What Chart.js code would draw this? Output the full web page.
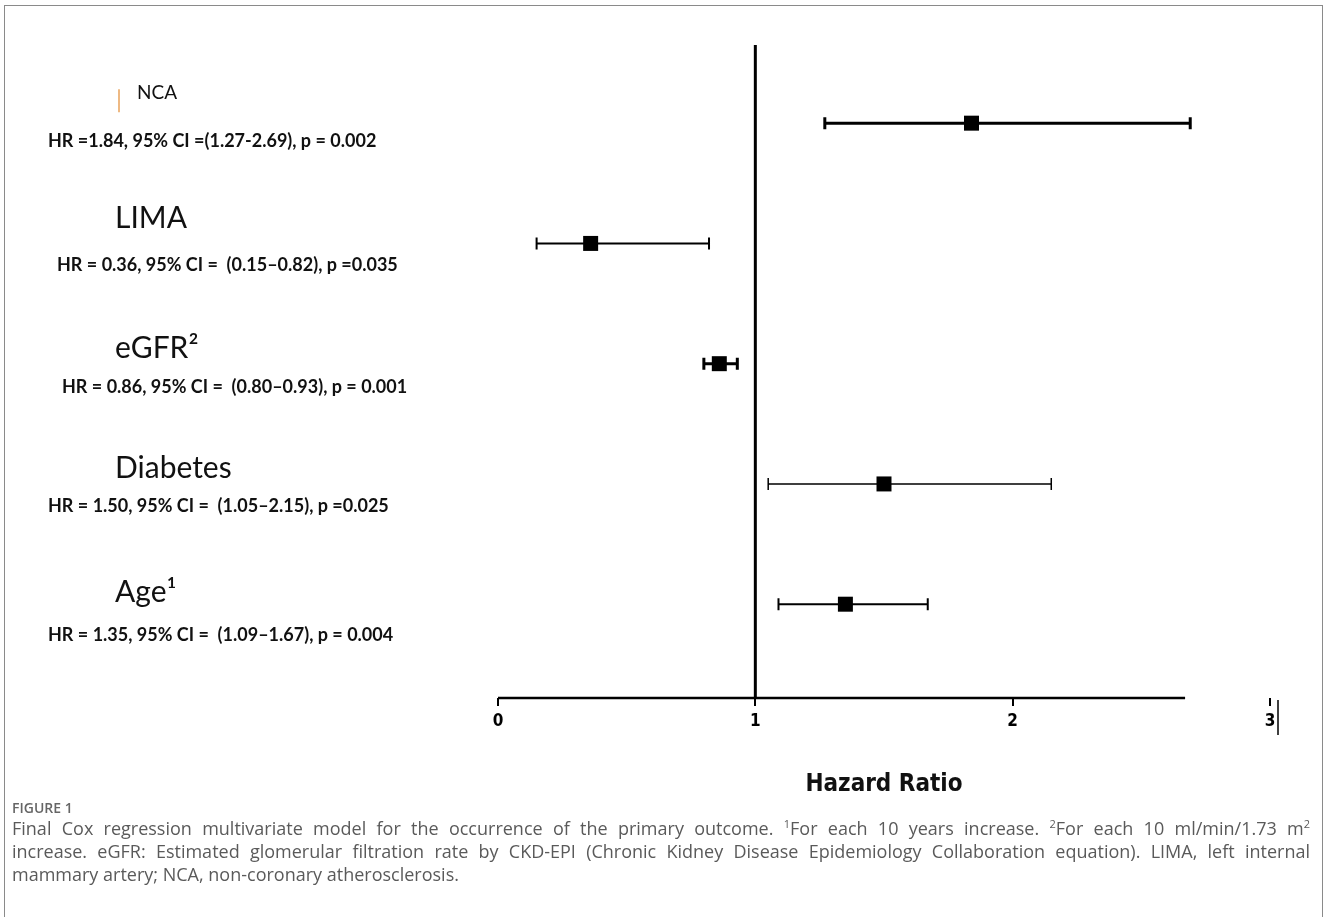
<!DOCTYPE html>
<html>
<head>
<meta charset="utf-8">
<script src="https://cdn.jsdelivr.net/npm/chart.js@4.4.1/dist/chart.umd.min.js"></script>
<style>
  body { margin: 0; background: #fff; }
  #frame { position: absolute; left: 4px; top: 5px; width: 1317px; height: 930px; border: 1px solid #8a8a8a; border-bottom: none; }
  #myChart { position: absolute; left: 0; top: 0; }
  #figlabel { position: absolute; left: 12px; top: 798px; font: 600 14px "Open Sans", "Noto Sans", sans-serif; color: #666; }
  #caption { position: absolute; left: 12px; top: 817px; width: 1298px; font: 18px "Open Sans", "Noto Sans", sans-serif; color: #5a5a5a; line-height: 23px; }
  .jl { text-align: justify; text-align-last: justify; white-space: nowrap; }
  sup { font-size: 11px; line-height: 0; }
</style>
</head>
<body>
<div id="frame"></div>
<canvas id="myChart" width="1328" height="800"></canvas>
<div id="figlabel">FIGURE 1</div>
<div id="caption">
  <div class="jl">Final Cox regression multivariate model for the occurrence of the primary outcome. <sup>1</sup>For each 10 years increase. <sup>2</sup>For each 10 ml/min/1.73 m<sup>2</sup></div>
  <div class="jl">increase. eGFR: Estimated glomerular filtration rate by CKD-EPI (Chronic Kidney Disease Epidemiology Collaboration equation). LIMA, left internal</div>
  <div>mammary artery; NCA, non-coronary atherosclerosis.</div>
</div>
<script>
// rows top to bottom
const rowNames = ['NCA', 'LIMA', 'eGFR\u00B2', 'Diabetes', 'Age\u00B9'];
const rowPos = [4, 3, 2, 1, 0];
const hrValues = [1.84, 0.36, 0.86, 1.50, 1.35];
const ciLower = [1.27, 0.15, 0.80, 1.05, 1.09];
const ciUpper = [2.69, 0.82, 0.93, 2.15, 1.67];
const statTexts = [
  'HR =1.84, 95% CI =(1.27-2.69), p = 0.002',
  'HR = 0.36, 95% CI =  (0.15\u20130.82), p =0.035',
  'HR = 0.86, 95% CI =  (0.80\u20130.93), p = 0.001',
  'HR = 1.50, 95% CI =  (1.05\u20132.15), p =0.025',
  'HR = 1.35, 95% CI =  (1.09\u20131.67), p = 0.004'
];
const xTicks = [0, 1, 2, 3];
const refValue = 1;
const axisEnd = 2.67;

// layout of the text block on the left (pixels)
const nameX = [137, 115, 115, 115, 115];
const nameDy = [-30, -25, -15, -16, -12];
const nameSize = [19, 30, 30, 30, 30];
const statX = [48, 57, 62, 48, 48];
const statDy = [18, 22, 24, 22, 31];
const barWidth = [3, 2, 3, 1.5, 2];

const convas = document.getElementById('myChart');
const ctx = convas.getContext('2d');

const forestPlugin = {
  id: 'forest',
  beforeDatasetsDraw(chart) {
    const c = chart.ctx;
    const xs = chart.scales.x, ys = chart.scales.y;
    const area = chart.chartArea;
    c.save();
    c.strokeStyle = '#000';
    // reference line at HR = 1
    c.lineWidth = 3;
    c.beginPath();
    c.moveTo(xs.getPixelForValue(refValue), area.top);
    c.lineTo(xs.getPixelForValue(refValue), area.bottom);
    c.stroke();
    // x axis line
    c.lineWidth = 2.5;
    c.beginPath();
    c.moveTo(xs.getPixelForValue(0), area.bottom);
    c.lineTo(xs.getPixelForValue(axisEnd), area.bottom);
    c.stroke();
    // stray bar after the 3
    c.lineWidth = 1.5;
    c.beginPath();
    c.moveTo(xs.getPixelForValue(3) + 8, area.bottom + 2);
    c.lineTo(xs.getPixelForValue(3) + 8, area.bottom + 37);
    c.stroke();
    // confidence intervals
    hrValues.forEach((v, i) => {
      const y = ys.getPixelForValue(rowPos[i]);
      const x1 = xs.getPixelForValue(ciLower[i]);
      const x2 = xs.getPixelForValue(ciUpper[i]);
      c.lineWidth = barWidth[i];
      c.beginPath();
      c.moveTo(x1, y); c.lineTo(x2, y);
      c.moveTo(x1, y - 6); c.lineTo(x1, y + 6);
      c.moveTo(x2, y - 6); c.lineTo(x2, y + 6);
      c.stroke();
    });
    c.restore();
  },
  afterDraw(chart) {
    const c = chart.ctx;
    const ys = chart.scales.y;
    c.save();
    c.fillStyle = '#111';
    c.textBaseline = 'middle';
    c.textAlign = 'left';
    rowNames.forEach((name, i) => {
      const y = ys.getPixelForValue(rowPos[i]);
      c.font = nameSize[i] + 'px Lato, "Open Sans", sans-serif';
      c.fillText(name, nameX[i], y + nameDy[i]);
      c.font = 'bold 18px Lato, "Open Sans", sans-serif';
      c.fillText(statTexts[i], statX[i], y + statDy[i]);
    });
    // little orange mark next to NCA
    const yN = ys.getPixelForValue(rowPos[0]);
    c.strokeStyle = '#e9a25a';
    c.lineWidth = 1.5;
    c.beginPath();
    c.moveTo(119, yN - 34); c.lineTo(119, yN - 11);
    c.stroke();
    c.restore();
  }
};

let chartInstance = new Chart(ctx, {
  type: 'scatter',
  data: {
    datasets: [{
      data: hrValues.map((v, i) => ({ x: v, y: rowPos[i] })),
      pointStyle: 'rect',
      pointRadius: 10.6,
      pointHoverRadius: 10.6,
      backgroundColor: '#000',
      borderColor: '#000',
      borderWidth: 0
    }]
  },
  options: {
    responsive: false,
    animation: false,
    layout: { padding: { left: 498, right: 58, top: 45, bottom: 0 } },
    plugins: { legend: { display: false }, tooltip: { enabled: false } },
    scales: {
      x: {
        type: 'linear',
        min: 0,
        max: 3,
        afterBuildTicks: (s) => { s.ticks = xTicks.map(v => ({ value: v })); },
        afterFit: (s) => { s.height = 102; },
        border: { display: false },
        grid: { drawOnChartArea: false, drawTicks: true, tickLength: 8, color: '#000', lineWidth: 2 },
        ticks: { color: '#000', padding: 5, font: { family: '"DejaVu Sans Condensed", "DejaVu Sans"', weight: 'bold', size: 17 } },
        title: {
          display: true,
          text: 'Hazard Ratio',
          color: '#111',
          padding: { top: 0, bottom: 1 },
          font: { family: '"DejaVu Sans Condensed", "DejaVu Sans"', weight: 'bold', size: 24 }
        }
      },
      y: {
        type: 'linear',
        min: -0.78,
        max: 4.65,
        display: false
      }
    }
  },
  plugins: [forestPlugin]
});
</script>
</body>
</html>
